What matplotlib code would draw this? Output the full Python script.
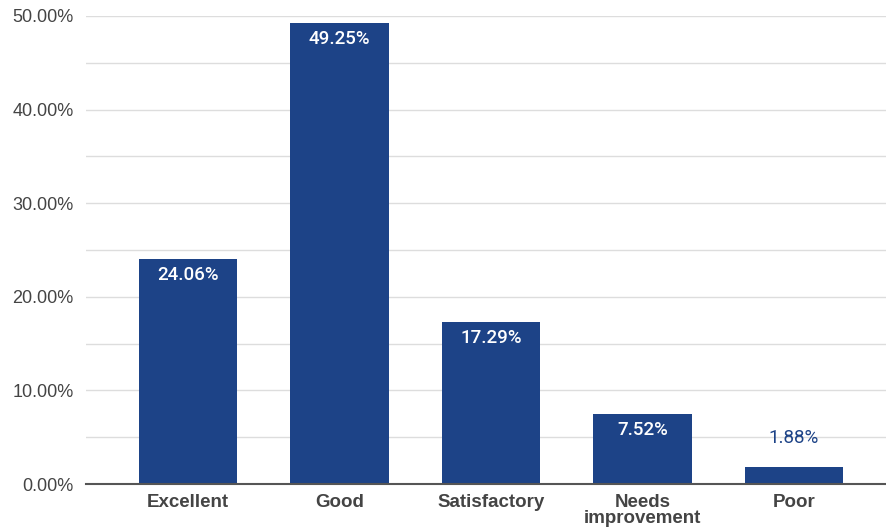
import matplotlib.pyplot as plt
from matplotlib.ticker import MultipleLocator, FuncFormatter

categorias = ['Excellent', 'Good', 'Satisfactory', 'Needs\nimprovement', 'Poor']
valores = [24.06, 49.25, 17.29, 7.52, 1.88]
rotulos = ['24.06%', '49.25%', '17.29%', '7.52%', '1.88%']

plt.rcParams['font.family'] = ['Liberation Sans', 'DejaVu Sans']
cor = '#1d4387'

fig = plt.figure(figsize=(8.86, 5.32), dpi=100)
ax = fig.add_axes([0.097, 0.09, 0.903, 0.88])

x = range(len(categorias))
barras = ax.bar(x, valores, width=0.65, color=cor, zorder=3)

for i, (v, r) in enumerate(zip(valores, rotulos)):
    if v > 5:
        ax.annotate(r, (i, v), xytext=(0, -16), textcoords='offset pixels',
                    ha='center', va='center', color='white', fontsize=13.5,
                    family='Roboto', fontweight='medium', zorder=4)
    else:
        ax.annotate(r, (i, v), xytext=(0, 29), textcoords='offset pixels',
                    ha='center', va='center', color=cor, fontsize=13.5,
                    family='Roboto', zorder=4)

ax.set_ylim(0, 50)
ax.set_xlim(-0.673, 4.607)
ax.yaxis.set_major_locator(MultipleLocator(10))
ax.yaxis.set_minor_locator(MultipleLocator(5))
ax.yaxis.set_major_formatter(FuncFormatter(lambda v, p: f'{v:.2f}%'))
ax.grid(axis='y', which='both', color='#dddddd', linewidth=1, zorder=0)

ax.set_xticks(list(x))
ax.set_xticklabels(categorias, fontsize=13.5, fontweight='bold', color='#444444',
                   linespacing=0.9)
ax.tick_params(axis='x', length=0, pad=7)
ax.tick_params(axis='y', which='both', length=0, labelsize=13, labelcolor='#444444', pad=9)

for s in ['top', 'right', 'left']:
    ax.spines[s].set_visible(False)
ax.spines['bottom'].set_color('#555555')
ax.spines['bottom'].set_linewidth(1.5)
ax.spines['bottom'].set_zorder(5)

plt.savefig('out.png', dpi=100)
